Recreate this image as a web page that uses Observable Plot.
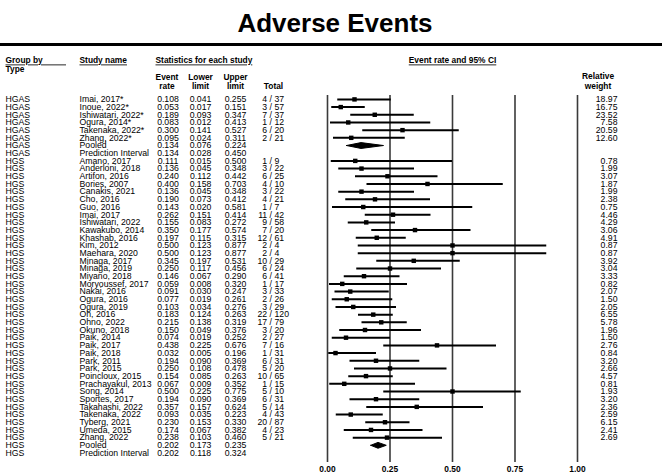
<!DOCTYPE html>
<html>
<head>
<meta charset="utf-8">
<script src="https://cdn.jsdelivr.net/npm/d3@7"></script>
<script src="https://cdn.jsdelivr.net/npm/@observablehq/plot@0.6"></script>
<style>
  body { margin: 0; background: #fff; font-family: 'Liberation Sans', Arial, sans-serif; }
  #title { width: 654px; padding: 10px 0 0 8px; height: 33px; border-bottom: 3px solid #000;
           font: bold 26px/26px 'Liberation Sans', Arial, sans-serif; text-align: center; color: #000; }
  svg { display: block; }
</style>
</head>
<body>
<div id="title">Adverse Events</div>
<div id="chart"></div>
<script>
// ---- data ----
const groupLabels = [
  "HGAS","HGAS","HGAS","HGAS","HGAS","HGAS","HGAS","HGAS",
  "HGS","HGS","HGS","HGS","HGS","HGS","HGS","HGS","HGS","HGS","HGS","HGS","HGS",
  "HGS","HGS","HGS","HGS","HGS","HGS","HGS","HGS","HGS","HGS","HGS","HGS","HGS",
  "HGS","HGS","HGS","HGS","HGS","HGS","HGS","HGS","HGS","HGS","HGS","HGS","HGS"
];
const studyNames = [
  "Imai, 2017*","Inoue, 2022*","Ishiwatari, 2022*","Ogura, 2014*","Takenaka, 2022*","Zhang, 2022*",
  "Pooled","Prediction Interval",
  "Amano, 2017","Anderloni, 2018","Artifon, 2016","Bories, 2007","Canakis, 2021","Cho, 2016",
  "Guo, 2016","Imai, 2017","Ishiwatari, 2022","Kawakubo, 2014","Khashab, 2016","Kim, 2012",
  "Maehara, 2020","Minaga, 2017","Minaga, 2019","Miyano, 2018","Moryoussef, 2017","Nakai, 2016",
  "Ogura, 2016","Ogura, 2019","Oh, 2016","Ohno, 2022","Okuno, 2018","Paik, 2014","Paik, 2017",
  "Paik, 2018","Park, 2011","Park, 2015","Poincloux, 2015","Prachayakul, 2013","Song, 2014",
  "Sportes, 2017","Takahashi, 2022","Takenaka, 2022","Tyberg, 2021","Umeda, 2015","Zhang, 2022",
  "Pooled","Prediction Interval"
];
const eventRates = [
  0.108,0.053,0.189,0.083,0.300,0.095,0.134,0.134,
  0.111,0.136,0.240,0.400,0.136,0.190,0.143,0.262,0.155,0.350,0.197,0.500,0.500,0.345,0.250,
  0.146,0.059,0.091,0.077,0.103,0.183,0.215,0.150,0.074,0.438,0.032,0.194,0.250,0.154,0.067,
  0.500,0.194,0.357,0.093,0.230,0.174,0.238,0.202,0.202
];
const lowerLimits = [
  0.041,0.017,0.093,0.012,0.141,0.024,0.076,0.028,
  0.015,0.045,0.112,0.158,0.045,0.073,0.020,0.151,0.083,0.177,0.115,0.123,0.123,0.197,0.117,
  0.067,0.008,0.030,0.019,0.034,0.124,0.138,0.049,0.019,0.225,0.005,0.090,0.108,0.085,0.009,
  0.225,0.090,0.157,0.035,0.153,0.067,0.103,0.173,0.118
];
const upperLimits = [
  0.255,0.151,0.347,0.413,0.527,0.311,0.224,0.450,
  0.500,0.348,0.442,0.703,0.348,0.412,0.581,0.414,0.272,0.574,0.315,0.877,0.877,0.531,0.456,
  0.290,0.320,0.247,0.261,0.276,0.263,0.319,0.376,0.252,0.676,0.196,0.369,0.478,0.263,0.352,
  0.775,0.369,0.624,0.223,0.330,0.382,0.460,0.235,0.324
];
const eventCounts = [
  4,3,7,1,6,2,null,null,
  1,3,6,4,3,4,1,11,9,7,12,2,2,10,6,6,1,3,2,3,22,17,3,2,7,1,6,5,10,1,5,6,5,4,20,4,5,null,null
];
const totals = [
  37,57,37,12,20,21,null,null,
  9,22,25,10,22,21,7,42,58,20,61,4,4,29,24,41,17,33,26,29,120,79,20,27,16,31,31,20,65,15,10,31,14,43,87,23,21,null,null
];
const relativeWeights = [
  18.97,16.75,23.52,7.58,20.59,12.60,null,null,
  0.78,1.99,3.07,1.87,1.99,2.38,0.75,4.46,4.29,3.06,4.91,0.87,0.87,3.92,3.04,3.33,0.82,2.07,
  1.50,2.05,6.55,5.78,1.96,1.50,2.76,0.84,3.20,2.66,4.57,0.81,1.93,3.20,2.36,2.59,6.15,2.41,2.69,null,null
];
const axisTicks = [0, 0.25, 0.5, 0.75, 1];

// ---- table built from the arrays ----
const rows = studyNames.map((name, i) => ({
  row: i,
  group: groupLabels[i],
  name,
  rate: eventRates[i],
  lower: lowerLimits[i],
  upper: upperLimits[i],
  events: eventCounts[i],
  total: totals[i],
  weight: relativeWeights[i],
  kind: name === "Pooled" ? "pooled" : name === "Prediction Interval" ? "pi" : "study"
}));
const studies = rows.filter(d => d.kind === "study");
const pooled = rows.filter(d => d.kind === "pooled");
const diamonds = pooled.flatMap(d => [
  {k: d.group, x: d.lower, y: d.row},
  {k: d.group, x: d.rate, y: d.row - 0.38},
  {k: d.group, x: d.upper, y: d.row},
  {k: d.group, x: d.rate, y: d.row + 0.38},
  {k: d.group, x: d.lower, y: d.row}
]);
const f3 = d3.format(".3f");
const f2 = d3.format(".2f");
const FS = 8.7, HS = 8.4;
const underlined = new Set();
const head = (text, dx, dy, anchor = "start", underline = false) => {
  if (underline) underlined.add(text);
  return Plot.text([text], {frameAnchor: "top-left", dx, dy, textAnchor: anchor, fontWeight: "bold",
                     fontSize: HS, fill: "#000"});
};

const chart = Plot.plot({
  width: 662,
  height: 429,
  marginTop: 49,
  marginBottom: 13,
  marginLeft: 0,
  marginRight: 0,
  style: {fontFamily: "'Liberation Sans', Arial, sans-serif", color: "#000", background: "#fff"},
  x: {domain: [0, 1], range: [327, 577], axis: null},
  y: {domain: [0, rows.length - 1], range: [52.9, 406.5], axis: null},
  marks: [
    Plot.ruleX(axisTicks, {stroke: "#3a3a3a", strokeWidth: 1.6}),
    Plot.ruleY(studies, {y: "row", x1: "lower", x2: "upper", stroke: "#000", strokeWidth: 2}),
    Plot.dot(studies, {x: "rate", y: "row", symbol: "square", r: 2.5, fill: "#000", stroke: null}),
    Plot.line(diamonds, {x: "x", y: "y", z: "k", fill: "#000", stroke: "#000", strokeWidth: 1}),
    Plot.axisX({ticks: axisTicks, tickFormat: f2, tickSize: 0, tickPadding: 4,
                fontWeight: "bold", fontSize: HS, fill: "#000"}),
    // table columns
    Plot.text(rows, {y: "row", text: "group", frameAnchor: "left", dx: 5, textAnchor: "start", fontSize: FS, fill: "#000"}),
    Plot.text(rows, {y: "row", text: "name", frameAnchor: "left", dx: 79, textAnchor: "start", fontSize: FS, fill: "#000"}),
    Plot.text(rows, {y: "row", text: d => f3(d.rate), frameAnchor: "left", dx: 167.5, textAnchor: "middle", fontSize: FS, fill: "#000"}),
    Plot.text(rows, {y: "row", text: d => f3(d.lower), frameAnchor: "left", dx: 200, textAnchor: "middle", fontSize: FS, fill: "#000"}),
    Plot.text(rows, {y: "row", text: d => f3(d.upper), frameAnchor: "left", dx: 235, textAnchor: "middle", fontSize: FS, fill: "#000"}),
    Plot.text(studies, {y: "row", text: d => `${d.events} /`, frameAnchor: "left", dx: 271.5, textAnchor: "end", fontSize: FS, fill: "#000"}),
    Plot.text(studies, {y: "row", text: d => `${d.total}`, frameAnchor: "left", dx: 274, textAnchor: "start", fontSize: FS, fill: "#000"}),
    Plot.text(studies, {y: "row", text: d => f2(d.weight), frameAnchor: "left", dx: 617, textAnchor: "end", fontSize: FS, fill: "#000"}),
    // headers
    head("Group by\u00A0\u00A0\u00A0\u00A0\u00A0\u00A0\u00A0\u00A0\u00A0\u00A0", 5, -38, "start", true),
    head("Type", 5, -29),
    head("Study name", 79, -38, "start", true),
    head("Statistics for each study", 155, -38, "start", true),
    head("Event rate and 95% CI", 452, -38, "middle", true),
    head("Event", 166.5, -21, "middle"),
    head("rate", 166.5, -12, "middle"),
    head("Lower", 200, -21, "middle"),
    head("limit", 200, -12, "middle"),
    head("Upper", 235, -21, "middle"),
    head("limit", 235, -12, "middle"),
    head("Total", 273, -12, "middle"),
    head("Relative", 597.5, -22, "middle"),
    head("weight", 597.5, -12, "middle")
  ]
});
d3.select(chart).selectAll("text")
  .filter(function() { return underlined.has(this.textContent); })
  .attr("text-decoration", "underline")
  .style("text-decoration", "underline");
document.getElementById("chart").append(chart);
</script>
</body>
</html>
